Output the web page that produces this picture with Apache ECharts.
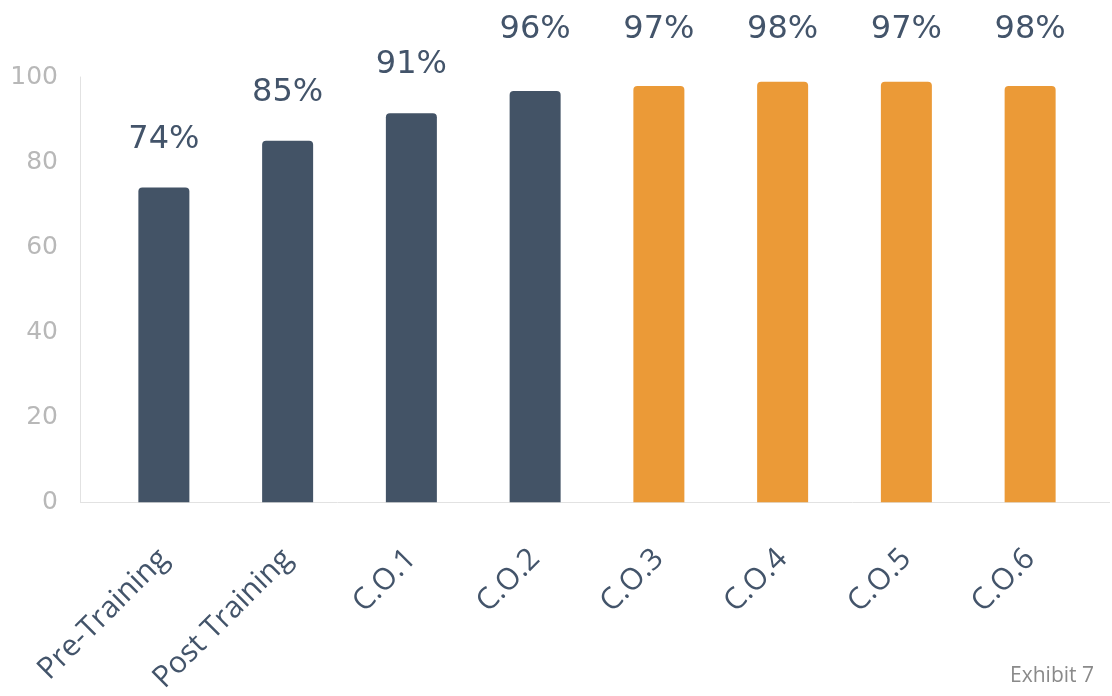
<!DOCTYPE html>
<html>
<head>
<meta charset="utf-8">
<script src="https://cdn.jsdelivr.net/npm/echarts@6/dist/echarts.min.js"></script>
<style>
html,body{margin:0;padding:0;background:#fff;}
#chart{width:1112px;height:696px;}
</style>
</head>
<body>
<div id="chart"></div>
<script>
const categories = ['Pre-Training', 'Post Training', 'C.O.1', 'C.O.2', 'C.O.3', 'C.O.4', 'C.O.5', 'C.O.6'];
const barValues = [74, 85, 91.5, 96.7, 97.9, 98.9, 98.9, 97.9];
const valueLabels = ['74%', '85%', '91%', '96%', '97%', '98%', '97%', '98%'];
const highlighted = [false, false, false, false, true, true, true, true];
const yTicks = { min: 0, max: 100, interval: 20 };
const footnote = 'Exhibit 7';

const DARK = '#435366';
const ORANGE = '#eb9a37';
const AXIS_GREY = '#e2e2e2';
const LABEL_ROW_Y = 30;

const chart = echarts.init(document.getElementById('chart'));
const data = barValues.map((v, i) => ({
  value: v,
  itemStyle: { color: highlighted[i] ? ORANGE : DARK },
  label: { formatter: valueLabels[i] }
}));

const Y_OFFSET = 22;
const GRID_LEFT = 102;
chart.setOption({
  animation: false,
  grid: { left: GRID_LEFT, right: 20, top: 77, bottom: 193 },
  xAxis: {
    type: 'category',
    data: categories,
    axisLine: { show: false },
    axisTick: { show: false },
    axisLabel: {
      rotate: 45,
      interval: 0,
      margin: 52,
      color: '#43546a',
      fontSize: 30,
      fontFamily: 'Open Sans'
    }
  },
  yAxis: {
    type: 'value',
    min: yTicks.min,
    max: yTicks.max,
    interval: yTicks.interval,
    offset: Y_OFFSET,
    axisLine: { show: true, lineStyle: { color: AXIS_GREY, width: 1 } },
    axisTick: { show: false },
    splitLine: { show: false },
    axisLabel: {
      margin: 22,
      color: '#b8b8b8',
      fontSize: 25,
      fontFamily: 'DejaVu Sans',
      padding: [9, 0, 0, 0]
    }
  },
  series: [{
    type: 'bar',
    data: data,
    barWidth: 51,
    itemStyle: { borderRadius: [4, 4, 0, 0] },
    label: {
      show: true,
      position: 'top',
      distance: 32,
      color: '#43546a',
      fontSize: 32,
      fontFamily: 'DejaVu Sans'
    },
    // labels that would crowd the top edge are lined up in one row
    labelLayout: function (p) {
      const r = p.labelRect;
      const cy = r.y + r.height / 2;
      return cy < 55
        ? { x: r.x + r.width / 2, y: LABEL_ROW_Y, align: 'center', verticalAlign: 'middle' }
        : {};
    }
  }]
});

// baseline drawn from the y-axis line across the plot, using the axis scale
const y0 = chart.convertToPixel({ yAxisIndex: 0 }, yTicks.min);
chart.setOption({
  graphic: [{
    type: 'line',
    shape: { x1: GRID_LEFT - Y_OFFSET, y1: Math.round(y0) + 0.5, x2: chart.getWidth() - 2, y2: Math.round(y0) + 0.5 },
    style: { stroke: AXIS_GREY, lineWidth: 1 },
    z: 0
  }, {
    type: 'text',
    right: 18,
    bottom: 9,
    style: { text: footnote, fill: '#8a8a8a', fontSize: 21, fontFamily: 'Open Sans' }
  }]
});
</script>
</body>
</html>
